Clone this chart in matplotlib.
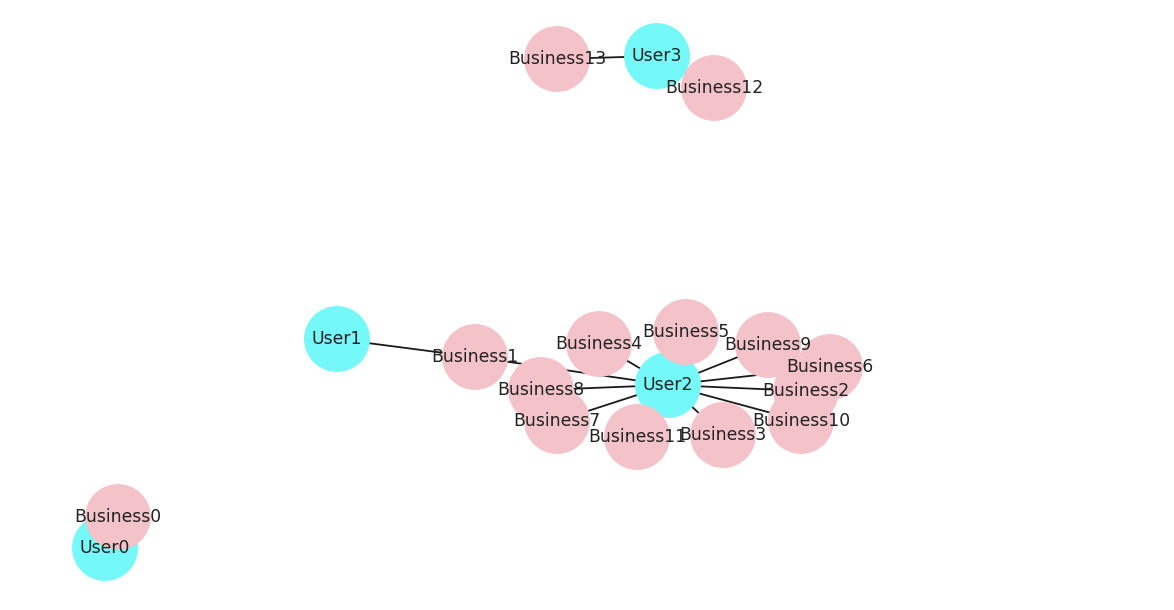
import matplotlib.pyplot as plt

# node layout (pixel-like coordinates, y grows downward)
nodes = ["User0", "User1", "User2", "User3",
         "Business0", "Business1", "Business2", "Business3", "Business4",
         "Business5", "Business6", "Business7", "Business8", "Business9",
         "Business10", "Business11", "Business12", "Business13"]
pos_x = [105, 337, 668, 657,
         118, 475, 806, 723, 599,
         686, 830, 557, 541, 768,
         801, 637, 714, 557]
pos_y = [548, 339, 385, 56,
         517, 357, 391, 435, 344,
         332, 367, 421, 390, 345,
         421, 437, 88, 59]

edges = [("User0", "Business0"), ("User1", "Business1"),
         ("User2", "Business1"), ("User2", "Business2"), ("User2", "Business3"),
         ("User2", "Business4"), ("User2", "Business5"), ("User2", "Business6"),
         ("User2", "Business7"), ("User2", "Business8"), ("User2", "Business9"),
         ("User2", "Business10"), ("User2", "Business11"),
         ("User3", "Business12"), ("User3", "Business13")]

pos = {n: (x, y) for n, x, y in zip(nodes, pos_x, pos_y)}
colors = ["#74F8F8" if n.startswith("User") else "#F4C2C9" for n in nodes]

fig = plt.figure(figsize=(11.74, 6.10), dpi=100)
ax = fig.add_axes([0, 0, 1, 1])

for a, b in edges:
    ax.plot([pos[a][0], pos[b][0]], [pos[a][1], pos[b][1]],
            color="#1a1a1a", linewidth=1.3, zorder=1)

ax.scatter(pos_x, pos_y, s=2250, c=colors, edgecolors="none", zorder=2)

for n, x, y in zip(nodes, pos_x, pos_y):
    ax.text(x, y, n, ha="center", va="center", fontsize=12.4,
            color="#222222", zorder=3)

ax.set_xlim(0, 1174)
ax.set_ylim(610, 0)
ax.axis("off")

plt.savefig("out.png", dpi=100)
plt.close()
